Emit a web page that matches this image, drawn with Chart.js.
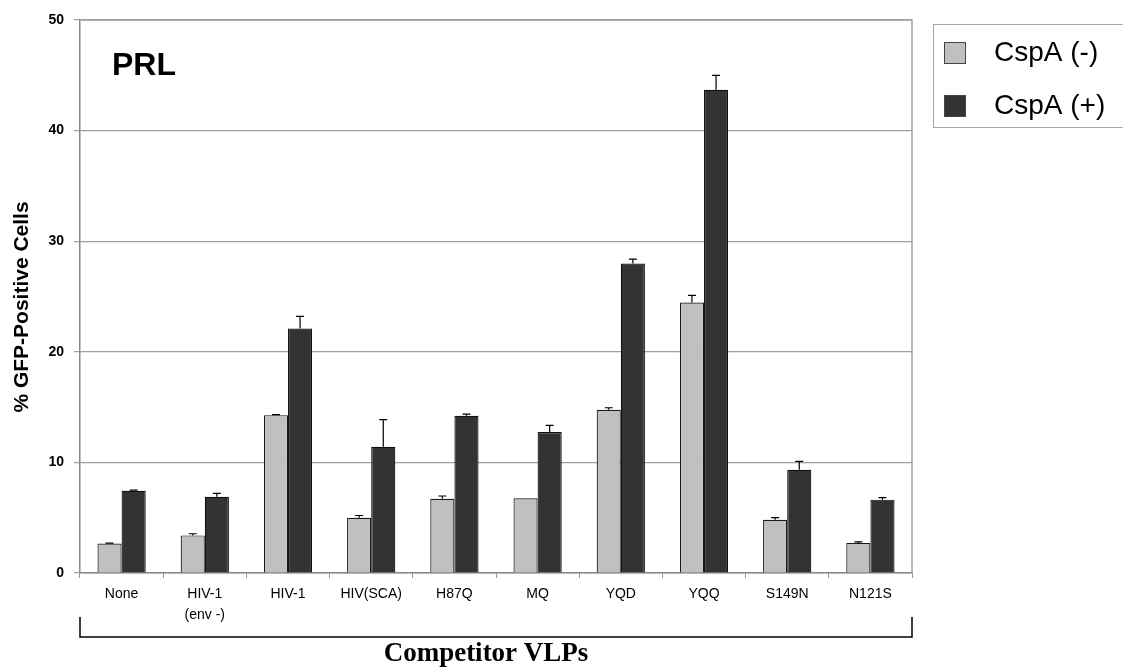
<!DOCTYPE html>
<html>
<head>
<meta charset="utf-8">
<script src="https://cdn.jsdelivr.net/npm/chart.js@4.4.1/dist/chart.umd.min.js"></script>
<style>
  html, body { margin: 0; padding: 0; background: #fff; }
  #wrap { width: 1123px; height: 671px; }
</style>
</head>
<body>
<div id="wrap"><canvas id="chart" width="1123" height="671"></canvas></div>
<script>
const categories = ["None", ["HIV-1", "(env -)"], "HIV-1", "HIV(SCA)", "H87Q", "MQ", "YQD", "YQQ", "S149N", "N121S"];
const cspaMinus = [2.66, 3.4, 14.27, 5.0, 6.72, 6.75, 14.76, 24.45, 4.82, 2.71];
const cspaMinusErr = [0.05, 0.15, 0.05, 0.2, 0.24, 0, 0.18, 0.65, 0.18, 0.1];
const cspaPlus = [7.44, 6.9, 22.1, 11.42, 14.22, 12.74, 27.98, 43.7, 9.34, 6.63];
const cspaPlusErr = [0.05, 0.3, 1.1, 2.45, 0.15, 0.6, 0.4, 1.3, 0.75, 0.18];
const yTicks = [0, 10, 20, 30, 40, 50];

const sans = "Arial, 'Liberation Sans', sans-serif";

// plot frame + error bars + extra labels
const extras = {
  id: "extras",
  beforeDatasetsDraw(chart) {
    const { ctx, chartArea: a } = chart;
    ctx.save();
    ctx.strokeStyle = "#a0a0a0";
    ctx.lineWidth = 1.5;
    ctx.beginPath();
    ctx.moveTo(a.left, a.top); ctx.lineTo(a.right, a.top); ctx.lineTo(a.right, a.bottom);
    ctx.stroke();
    ctx.restore();
  },
  afterDatasetsDraw(chart) {
    const { ctx, chartArea: a } = chart;
    const y = chart.scales.y;
    const errs = [cspaMinusErr, cspaPlusErr];
    ctx.save();
    ctx.strokeStyle = "#000";
    ctx.lineWidth = 1.2;
    chart.data.datasets.forEach((ds, i) => {
      chart.getDatasetMeta(i).data.forEach((bar, j) => {
        const e = errs[i][j];
        if (!e) return;
        const top = y.getPixelForValue(ds.data[j] + e);
        ctx.beginPath();
        ctx.moveTo(bar.x, bar.y); ctx.lineTo(bar.x, top);
        ctx.moveTo(bar.x - 4, top); ctx.lineTo(bar.x + 4, top);
        ctx.stroke();
      });
    });

    // y title
    ctx.fillStyle = "#000";
    ctx.save();
    ctx.translate(22, 307);
    ctx.rotate(-Math.PI / 2);
    ctx.font = "bold 21px " + sans;
    ctx.textAlign = "center";
    ctx.textBaseline = "middle";
    ctx.fillText("% GFP-Positive Cells", 0, 0);
    ctx.restore();

    // PRL label
    ctx.font = "bold 32px " + sans;
    ctx.textBaseline = "middle";
    ctx.textAlign = "left";
    ctx.fillText("PRL", 112, 66);

    // bracket under categories
    ctx.strokeStyle = "#000";
    ctx.lineWidth = 1.5;
    ctx.beginPath();
    ctx.moveTo(a.left, 617); ctx.lineTo(a.left, 637);
    ctx.lineTo(a.right, 637); ctx.lineTo(a.right, 617);
    ctx.stroke();
    ctx.font = "bold 27px 'Liberation Serif', 'Times New Roman', serif";
    ctx.textAlign = "center";
    ctx.textBaseline = "alphabetic";
    ctx.fillText("Competitor VLPs", 486, 661);

    // legend
    const lx = 933, ly = 24;
    ctx.strokeStyle = "#a8a8a8";
    ctx.lineWidth = 1;
    ctx.strokeRect(lx + 0.5, ly + 0.5, 200, 103);
    ctx.font = "28px " + sans;
    ctx.textAlign = "left";
    ctx.textBaseline = "middle";
    chart.data.datasets.forEach((ds, i) => {
      const cy = 53 + i * 53;
      ctx.fillStyle = ds.backgroundColor;
      ctx.fillRect(944, cy - 11, 22, 22);
      ctx.strokeStyle = "#444";
      ctx.strokeRect(944.5, cy - 10.5, 21, 21);
      ctx.fillStyle = "#000";
      ctx.fillText(ds.label, 994, cy);
    });
    ctx.restore();
  }
};

new Chart(document.getElementById("chart"), {
  type: "bar",
  data: {
    labels: categories,
    datasets: [
      { label: "CspA (-)", data: cspaMinus, backgroundColor: "#c0c0c0", borderColor: "#1a1a1a", borderWidth: 1.2 },
      { label: "CspA (+)", data: cspaPlus, backgroundColor: "#333333", borderColor: "#111", borderWidth: 1.2 }
    ]
  },
  options: {
    responsive: false,
    animation: false,
    layout: { padding: { top: 20, right: 211, left: 0, bottom: 0 } },
    plugins: { legend: { display: false }, tooltip: { enabled: false } },
    datasets: { bar: { categoryPercentage: 0.58, barPercentage: 1.0 } },
    scales: {
      x: {
        grid: { display: true, drawOnChartArea: false, tickLength: 5, color: "#999", offset: true },
        border: { color: "#888", width: 1.5 },
        ticks: { color: "#000", font: { family: sans, size: 14, lineHeight: 1.5 }, padding: 6, maxRotation: 0, autoSkip: false },
        afterFit(scale) { scale.height = 98; }
      },
      y: {
        min: 0, max: 50,
        afterBuildTicks(scale) { scale.ticks = yTicks.map(v => ({ value: v })); },
        grid: { color: "#a0a0a0", lineWidth: 1.2, tickLength: 6 },
        border: { color: "#888", width: 1.5 },
        ticks: { color: "#000", font: { family: sans, size: 14, weight: "bold" }, padding: 10 },
        afterFit(scale) { scale.width = 80; }
      }
    }
  },
  plugins: [extras]
});
</script>
</body>
</html>
